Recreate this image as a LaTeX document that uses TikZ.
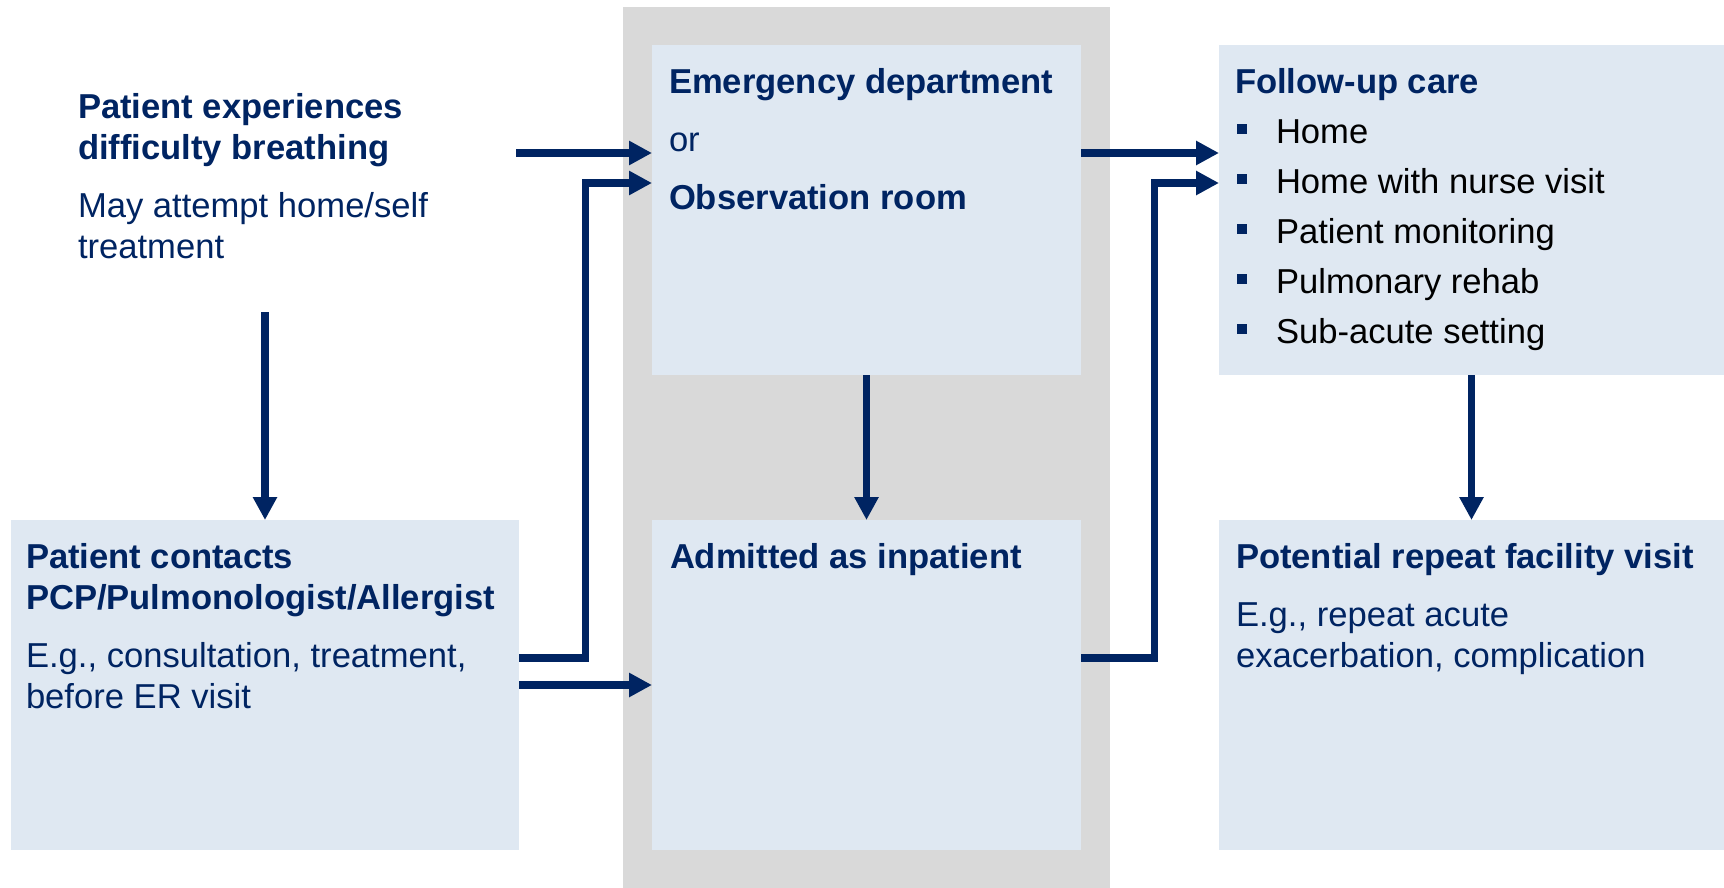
\documentclass[tikz,border=0pt]{standalone}
\usepackage{fontspec}
\setmainfont{Liberation Sans}
\usetikzlibrary{arrows.meta}
\definecolor{navy}{RGB}{0,36,98}
\definecolor{boxfill}{RGB}{223,232,242}
\definecolor{panel}{RGB}{217,217,217}
\newcommand\fubullet{\textcolor{navy}{\rule[9pt]{10pt}{10.5pt}}}
\newcommand\fuitem[1]{\hspace*{2pt}\fubullet\hspace*{29pt}#1}

\begin{document}
\begin{tikzpicture}[x=1pt,y=-1pt,
  box/.style={fill=boxfill, draw=none, inner sep=0pt, outer sep=0pt, anchor=north west},
  txt/.style={anchor=base west, inner sep=0pt, outer sep=0pt, text=navy,
              font=\fontsize{34.6}{41}\selectfont},
  flow/.style={draw=navy, line width=7.6pt, line join=miter,
               -{Triangle[length=23pt,width=23pt]}}]
\useasboundingbox (0,0) rectangle (1724,888);

% grey hospital zone
\node[box, fill=panel, minimum width=487pt, minimum height=881pt] (zone) at (623,7) {};

% boxes
\node[box, minimum width=508pt, minimum height=330pt] (pc) at (11,520) {};
\node[box, minimum width=429pt, minimum height=330pt] (ed) at (652,45) {};
\node[box, minimum width=429pt, minimum height=330pt] (ad) at (652,520) {};
\node[box, minimum width=505pt, minimum height=330pt] (fu) at (1219,45) {};
\node[box, minimum width=505pt, minimum height=330pt] (rp) at (1219,520) {};

% texts
\node[txt] (start) at (78,118.3) {\parbox[t]{420pt}{\raggedright
  \bfseries Patient experiences\\difficulty breathing\\[17pt]
  \mdseries May attempt home/self\\treatment}};
\node[txt] (pct) at (26,568.3) {\parbox[t]{480pt}{\raggedright
  \bfseries Patient contacts\\PCP/Pulmonologist/Allergist\\[17pt]
  \mdseries E.g., consultation, treatment,\\before ER visit}};
\node[txt] (edt) at (669,94) {\parbox[t]{400pt}{\raggedright
  \bfseries Emergency department\\[17pt]
  \mdseries or\\[17pt]
  \bfseries Observation room}};
\node[txt] (adt) at (670,568.3) {\bfseries Admitted as inpatient};
\node[txt] (fut) at (1235,93.3) {\parbox[t]{480pt}{\raggedright
  \fontsize{34.6}{50}\selectfont
  \bfseries Follow-up care\\
  \mdseries\color{black}\fuitem{Home}\\
  \fuitem{Home with nurse visit}\\
  \fuitem{Patient monitoring}\\
  \fuitem{Pulmonary rehab}\\
  \fuitem{Sub-acute setting}}};
\node[txt] (rpt) at (1236,568.3) {\parbox[t]{480pt}{\raggedright
  \bfseries Potential repeat facility visit\\[17pt]
  \mdseries E.g., repeat acute\\exacerbation, complication}};

% connector anchors
\coordinate (s1) at (516,153);
\coordinate (s5) at (265,312);
\coordinate (k2) at (585.5,183);
\coordinate (k7) at (1154.5,183);

% connectors
\draw[flow] (s1) -- (ed.west |- s1);
\draw[flow] (s5) -- (pc.north);
\draw[flow] ([yshift=27pt]pc.east) -| (k2) -- (ed.west |- k2);
\draw[flow] (pc.east) -- (ad.west);
\draw[flow] (ed.south) -- (ad.north);
\draw[flow] (ed.east |- s1) -- (fu.west |- s1);
\draw[flow] ([yshift=27pt]ad.east) -| (k7) -- (fu.west |- k7);
\draw[flow] (fu.south) -- (rp.north);
\end{tikzpicture}
\end{document}
